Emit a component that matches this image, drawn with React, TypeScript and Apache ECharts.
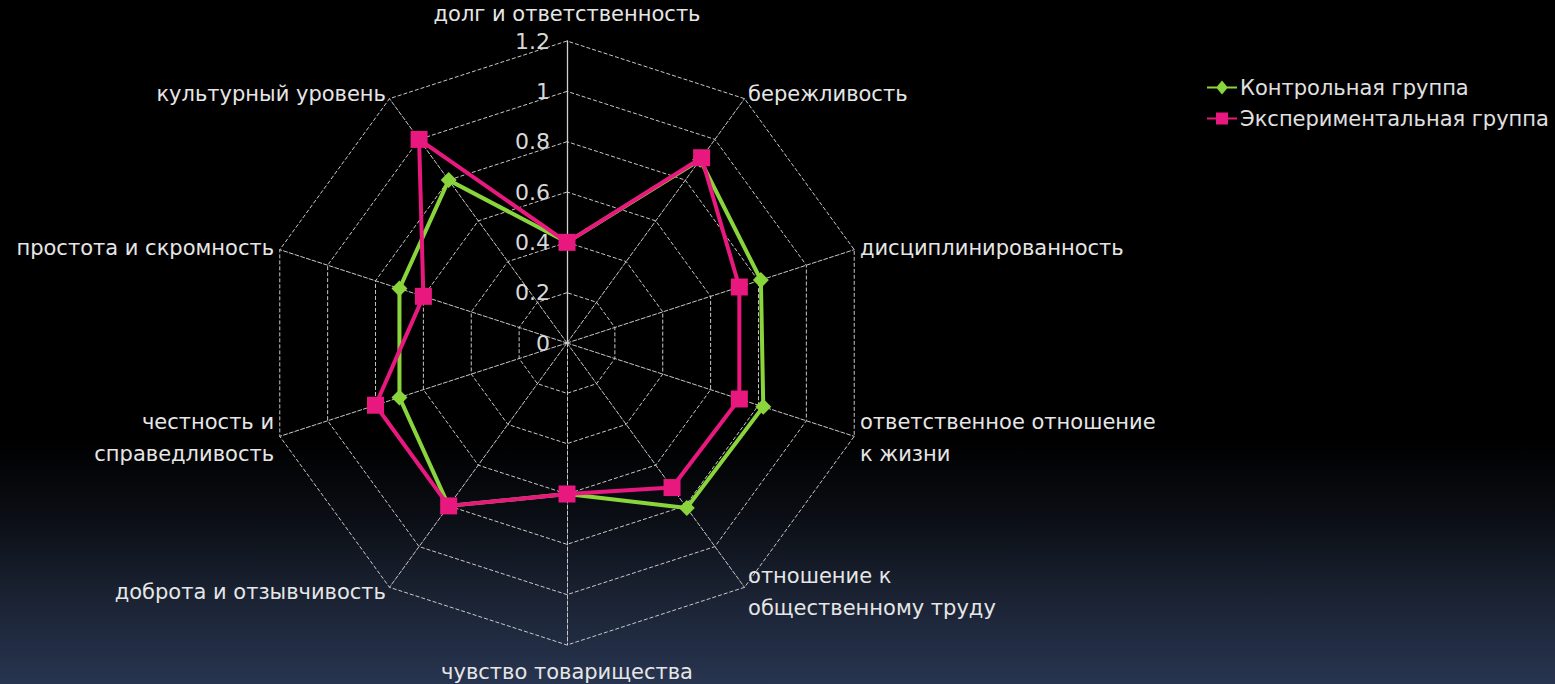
import React, { useEffect, useRef } from "react";
import * as echarts from "echarts";

// Categories clockwise from top (as in the reference)
const categories: string[] = [
  "долг и ответственность",
  "бережливость",
  "дисциплинированность",
  "ответственное отношение\nк жизни",
  "отношение к\nобщественному труду",
  "чувство товарищества",
  "доброта и отзывчивость",
  "честность и\nсправедливость",
  "простота и скромность",
  "культурный уровень",
];

const controlValues: number[] = [0.4, 0.9, 0.81, 0.82, 0.81, 0.6, 0.8, 0.7, 0.7, 0.8];
const experimentalValues: number[] = [0.4, 0.91, 0.72, 0.72, 0.71, 0.6, 0.8, 0.8, 0.6, 1.0];

const seriesNames: string[] = ["Контрольная группа", "Экспериментальная группа"];
const axisMax = 1.2;
const axisStep = 0.2;

// ECharts radar goes counter-clockwise, reorder: keep first, reverse the rest
const ccw = <T,>(arr: T[]): T[] => [arr[0], ...arr.slice(1).reverse()];

const FONT = "DejaVu Sans";

export default function App() {
  const ref = useRef<HTMLDivElement>(null);

  useEffect(() => {
    if (!ref.current) return;
    const chart = echarts.init(ref.current, null, { renderer: "svg" });

    const indicator = ccw(categories).map((name, i) => {
      const item: any = { name, max: axisMax, min: 0 };
      if (i === 0) {
        item.axisLabel = {
          show: true,
          color: "#d8d8d8",
          fontSize: 22,
          fontFamily: FONT,
          margin: 17,
          formatter: (v: number) => String(Math.round(v * 10) / 10),
        };
        item.axisLine = { lineStyle: { type: "solid", color: "#d0d0d0", width: 1.3 } };
      }
      return item;
    });

    const diamondIcon =
      "path://M0,6 L10,6 L15,0 L20,6 L30,6 L30,8 L20,8 L15,14 L10,8 L0,8 Z";
    const squareIcon =
      "path://M0,6 L9,6 L9,1 L21,1 L21,6 L30,6 L30,8 L21,8 L21,13 L9,13 L9,8 L0,8 Z";

    const green = "#8ad53c";
    const magenta = "#e8187e";

    chart.setOption({
      animation: false,
      backgroundColor: {
        type: "linear",
        x: 0,
        y: 0,
        x2: 0,
        y2: 1,
        colorStops: [
          { offset: 0, color: "#000000" },
          { offset: 0.64, color: "#000000" },
          { offset: 0.75, color: "#0a0d13" },
          { offset: 0.87, color: "#1a2232" },
          { offset: 1, color: "#283550" },
        ],
      },
      legend: {
        orient: "vertical",
        left: 1202,
        top: 72,
        itemWidth: 30,
        itemHeight: 14,
        itemGap: 10,
        textStyle: { color: "#e0e0e0", fontSize: 21, fontFamily: FONT, padding: [0, 0, 0, -2] },
        data: [
          { name: seriesNames[0], icon: diamondIcon },
          { name: seriesNames[1], icon: squareIcon },
        ],
      },
      radar: {
        center: [567, 343],
        radius: 302,
        startAngle: 90,
        splitNumber: Math.round(axisMax / axisStep),
        shape: "polygon",
        indicator,
        nameGap: 6,
        axisName: {
          color: "#e6e6e6",
          fontSize: 21,
          fontFamily: FONT,
          lineHeight: 32,
          padding: [5, 0, 0, 0],
        },
        axisLine: { show: true, lineStyle: { color: "#c8c8c8", type: "dashed", width: 1 } },
        splitLine: { show: true, lineStyle: { color: "#c8c8c8", type: "dashed", width: 1 } },
        splitArea: { show: false },
        axisLabel: { show: false },
        axisTick: { show: false },
      },
      series: [
        {
          type: "radar",
          name: seriesNames[0],
          symbol: "diamond",
          symbolSize: 16,
          lineStyle: { color: green, width: 4 },
          itemStyle: { color: green },
          data: [{ value: ccw(controlValues), name: seriesNames[0] }],
          z: 2,
        },
        {
          type: "radar",
          name: seriesNames[1],
          symbol: "rect",
          symbolSize: 17,
          lineStyle: { color: magenta, width: 4 },
          itemStyle: { color: magenta },
          data: [{ value: ccw(experimentalValues), name: seriesNames[1] }],
          z: 3,
        },
      ],
    });

    return () => chart.dispose();
  }, []);

  return (
    <div
      ref={ref}
      style={{ position: "fixed", left: 0, top: 0, width: 1555, height: 684 }}
    />
  );
}
